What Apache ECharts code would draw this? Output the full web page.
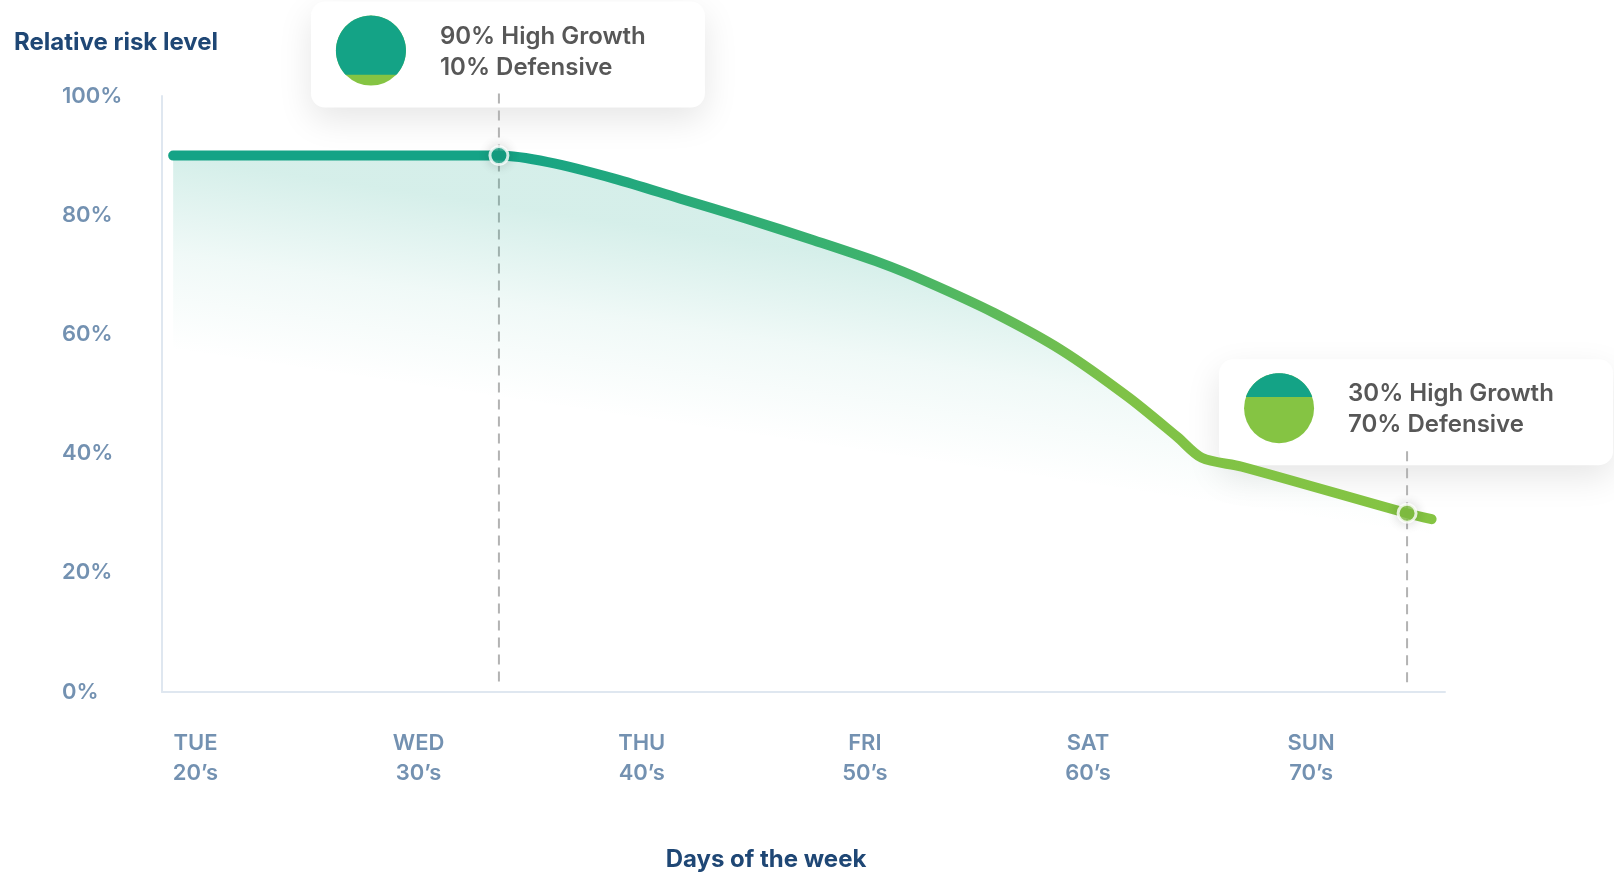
<!DOCTYPE html>
<html><head><meta charset="utf-8">
<script src="https://cdn.jsdelivr.net/npm/echarts@6/dist/echarts.min.js"></script>
<style>html,body{margin:0;padding:0;background:#fff}#c{width:1614px;height:872px}</style>
</head><body><div id="c"></div>
<script>
// ---- data ----
const ages = [19, 33.6, 35.8, 38.8, 41.7, 44.7, 47.7, 50.7, 52.8, 55.8, 58.8, 61.8, 64.0, 65.1, 66.9, 74.3, 75.4];
const risk = [90, 90, 88.9, 86.1, 82.8, 79.4, 75.8, 72.0, 68.8, 63.6, 57.4, 49.5, 42.8, 39.3, 37.8, 30.0, 29.0];
const tickAges = [20, 30, 40, 50, 60, 70];
const tickDays = ['TUE', 'WED', 'THU', 'FRI', 'SAT', 'SUN'];
const tickDecades = ['20’s', '30’s', '40’s', '50’s', '60’s', '70’s'];
const annAges = [33.6, 74.3];
const annRisk = [90, 30];
const annGrowth = [90, 30];
const annDefensive = [10, 70];
const yTitle = 'Relative risk level';
const xTitle = 'Days of the week';

const TEAL = '#14a386', GREEN = '#85c443';
const LABEL = '#7391b1', NAVY = '#1f4775';
const FONT = 'Inter';

function segTheta(f) {
  let lo = 0, hi = 2 * Math.PI;
  for (let k = 0; k < 60; k++) {
    const m = (lo + hi) / 2;
    if ((m - Math.sin(m)) / (2 * Math.PI) < f) lo = m; else hi = m;
  }
  return (lo + hi) / 2;
}

const chart = echarts.init(document.getElementById('c'));
chart.setOption({
  backgroundColor: '#fff',
  animation: false,
  title: {
    text: yTitle, left: 9, top: 26,
    textStyle: { fontFamily: FONT, fontSize: 24, fontWeight: 700, color: NAVY }
  },
  graphic: [{
    type: 'text',
    style: { text: xTitle, x: 766, y: 860, align: 'center', verticalAlign: 'middle',
             font: '700 24px ' + FONT, fill: NAVY }
  }],
  grid: { left: 162, right: 169, top: 96, bottom: 180 },
  xAxis: {
    type: 'value', min: 18.5, max: 76,
    axisLine: { show: true, lineStyle: { color: '#dfe7f0', width: 2 } },
    axisTick: { show: false },
    splitLine: { show: false },
    axisLabel: {
      customValues: tickAges,
      margin: 36, lineHeight: 30,
      fontFamily: FONT, fontSize: 22, fontWeight: 600, color: LABEL,
      formatter: function (v) {
        const i = tickAges.indexOf(v);
        return i < 0 ? '' : tickDays[i] + '\n' + tickDecades[i];
      }
    }
  },
  yAxis: {
    type: 'value', min: 0, max: 100, interval: 20,
    axisLine: { show: true, lineStyle: { color: '#dfe7f0', width: 2 } },
    axisTick: { show: false },
    splitLine: { show: false },
    axisLabel: {
      formatter: '{value}%', align: 'left', margin: 100,
      fontFamily: FONT, fontSize: 22, fontWeight: 600, color: LABEL
    }
  },
  series: [
    {
      type: 'custom', z: 1, clip: false,
      data: annAges.map((a, i) => [a, annRisk[i], annGrowth[i], annDefensive[i]]),
      encode: { x: 0, y: 1 },
      renderItem: function (params, api) {
        const p = api.coord([api.value(0), api.value(1)]);
        const b = api.coord([api.value(0), 0]);
        const g = api.value(2) / 100;
        const px = p[0], py = p[1];
        const bx = px - 188, by = py - 154, bw = 394, bh = 106;
        const cx = px - 128, cy = py - 105, r = 35;
        const th = segTheta(g);
        const a1 = -Math.PI / 2 - th / 2, a2 = -Math.PI / 2 + th / 2;
        const pts = [];
        for (let k = 0; k <= 80; k++) {
          const a = a1 + (a2 - a1) * k / 80;
          pts.push([cx + r * Math.cos(a), cy + r * Math.sin(a)]);
        }
        return {
          type: 'group', children: [
            { type: 'rect', shape: { x: bx, y: by, width: bw, height: bh, r: 14 },
              style: { fill: '#fff', shadowBlur: 34, shadowOffsetY: 12, shadowColor: 'rgba(0,0,0,0.10)' } },
            { type: 'line', shape: { x1: px, y1: py - 62, x2: px, y2: b[1] - 8 },
              style: { stroke: '#b3b3b3', lineWidth: 2, lineDash: [10, 7] } },
            { type: 'circle', shape: { cx: cx, cy: cy, r: r }, style: { fill: GREEN } },
            { type: 'polygon', shape: { points: pts }, style: { fill: TEAL } },
            { type: 'text', style: { x: px - 59, y: py - 119, text: api.value(2) + '% High Growth',
                font: '600 24px ' + FONT, fill: '#575757', align: 'left', verticalAlign: 'middle' } },
            { type: 'text', style: { x: px - 59, y: py - 88, text: api.value(3) + '% Defensive',
                font: '600 24px ' + FONT, fill: '#575757', align: 'left', verticalAlign: 'middle' } }
          ]
        };
      }
    },
    {
      type: 'line', z: 2,
      data: ages.map((a, i) => [a, risk[i]]),
      showSymbol: false, smooth: 0.3,
      lineStyle: {
        width: 10, cap: 'round', join: 'round',
        color: new echarts.graphic.LinearGradient(0, 0, 1, 0, [
          { offset: 0, color: TEAL }, { offset: 0.26, color: TEAL },
          { offset: 0.56, color: '#3fb36c' }, { offset: 0.75, color: '#7fc247' },
          { offset: 1, color: GREEN }
        ])
      },
      areaStyle: {
        color: { type: 'linear', global: true, x: 160, y: 155, x2: 132, y2: 345,
          colorStops: [
            { offset: 0, color: 'rgba(19,163,134,0.25)' },
            { offset: 0.5, color: 'rgba(19,163,134,0.09)' },
            { offset: 1, color: 'rgba(19,163,134,0)' }
          ] }
      }
    },
    {
      type: 'scatter', z: 3,
      data: annAges.map((a, i) => ({ value: [a, annRisk[i]], itemStyle: { color: i === 0 ? TEAL : GREEN } })),
      symbolSize: 18,
      itemStyle: { borderColor: '#ffffff', borderWidth: 3, shadowBlur: 12, shadowColor: 'rgba(0,0,0,0.18)' }
    }
  ]
});
</script></body></html>
